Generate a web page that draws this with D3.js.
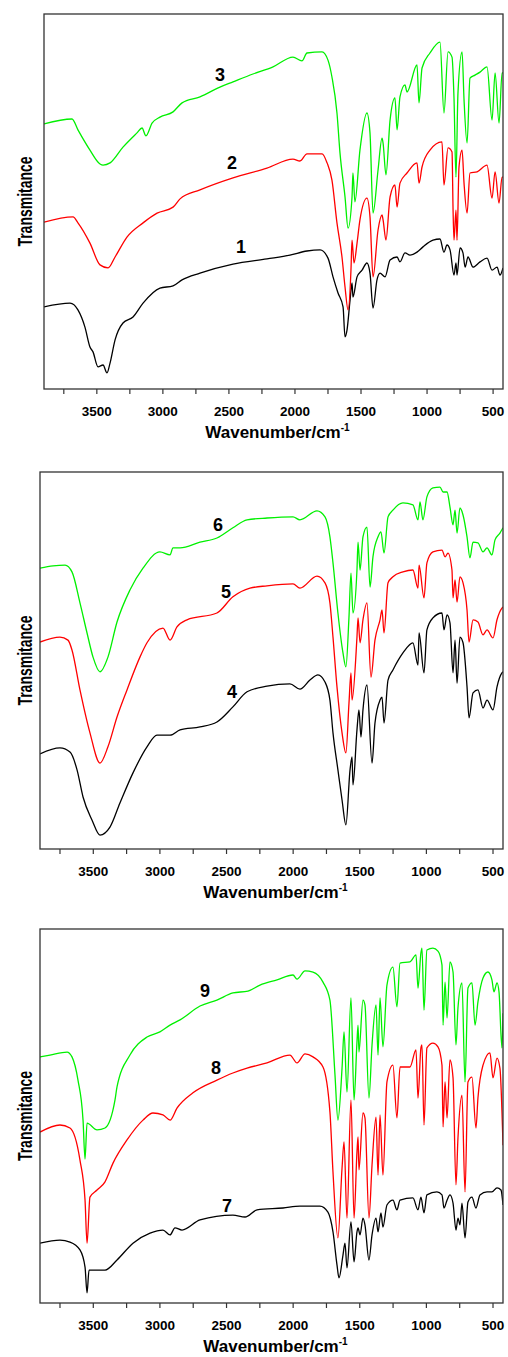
<!DOCTYPE html>
<html>
<head>
<meta charset="utf-8">
<script src="https://cdn.jsdelivr.net/npm/d3@7"></script>
<style>
  body { margin: 0; background: #fff; }
  text { font-family: Arial, "Liberation Sans", sans-serif; font-weight: bold; fill: #000; }
</style>
</head>
<body>
<svg width="508" height="1357"></svg>
<script>
// x ticks (cm-1)
var majorTicks = [3500, 3000, 2500, 2000, 1500, 1000, 500];
var minorTicks = [3750, 3250, 2750, 2250, 1750, 1250, 750];
var colors = ['#000000', '#ff0000', '#00f000'];

// spectra as [wavenumber, transmittance (a.u., offset)]
var spec1 = [[3900,21.9],[3703,22.9],[3643,21.1],[3590,16.5],[3552,11.2],[3529,9.9],[3491,5.9],[3453,6.4],[3423,4.3],[3400,6.9],[3362,13.1],[3302,17.6],[3226,19.2],[3150,22.9],[3022,26.9],[2923,27.5],[2855,29.1],[2719,30.9],[2469,33.3],[2212,34.7],[2038,35.7],[1909,36.8],[1810,37.1],[1750,34.9],[1712,29.9],[1674,25.6],[1636,21.9],[1621,13.9],[1606,15.7],[1583,23.7],[1568,28.3],[1561,24.5],[1530,29.9],[1492,31.7],[1455,33.6],[1432,30.9],[1409,21.6],[1379,29.1],[1356,30.9],[1318,29.9],[1280,34.4],[1227,35.2],[1205,33.9],[1167,36.3],[1129,35.7],[1076,36.5],[1031,37.9],[955,39.7],[902,40.0],[872,36.5],[849,38.4],[826,37.1],[796,30.4],[781,33.6],[773,30.4],[750,37.6],[728,36.3],[712,32.5],[690,35.2],[652,32.5],[599,33.9],[546,34.9],[508,31.7],[470,32.5],[448,30.4],[425,32.3]];
var spec2 = [[3900,44.5],[3680,45.9],[3643,44.3],[3552,38.9],[3476,33.1],[3415,32.3],[3362,35.2],[3272,40.5],[3150,44.3],[3044,46.9],[2923,48.5],[2870,50.7],[2719,53.1],[2469,56.3],[2212,58.9],[2015,61.3],[1962,60.8],[1909,62.7],[1795,62.7],[1757,60.3],[1720,55.7],[1682,44.3],[1644,35.2],[1621,27.2],[1598,21.1],[1576,31.7],[1568,39.7],[1553,33.6],[1530,38.9],[1508,45.1],[1455,50.9],[1432,45.9],[1409,29.9],[1371,42.4],[1341,46.4],[1333,45.1],[1311,39.7],[1280,51.2],[1243,54.4],[1227,48.5],[1205,54.9],[1152,57.6],[1076,60.3],[1061,54.9],[1038,59.2],[978,63.7],[887,65.9],[872,54.4],[841,64.3],[811,63.2],[803,47.7],[796,39.7],[781,47.7],[773,39.7],[758,59.2],[735,63.7],[720,54.9],[697,46.9],[675,57.6],[621,57.9],[546,59.7],[508,50.9],[485,57.9],[455,49.6],[432,56.5],[425,56.5]];
var spec3 = [[3900,70.7],[3688,72.0],[3643,69.1],[3552,63.7],[3476,60.0],[3453,59.7],[3400,60.3],[3302,64.5],[3196,68.3],[3158,69.6],[3128,67.5],[3082,70.9],[3022,72.5],[2923,73.9],[2855,76.3],[2719,77.9],[2568,80.5],[2469,81.9],[2318,84.0],[2166,85.9],[2015,88.5],[1947,87.5],[1909,89.6],[1795,89.9],[1750,87.7],[1720,83.2],[1682,73.6],[1659,62.9],[1621,51.2],[1598,42.9],[1568,51.2],[1561,57.6],[1546,49.9],[1508,63.7],[1455,73.6],[1432,68.3],[1409,46.9],[1371,58.4],[1341,66.9],[1333,65.6],[1311,57.1],[1280,71.7],[1243,77.6],[1227,69.1],[1205,77.9],[1167,81.1],[1152,79.2],[1076,86.4],[1061,76.3],[1038,85.6],[978,89.6],[902,92.5],[872,73.6],[841,89.9],[811,88.5],[796,77.6],[781,56.5],[766,78.9],[735,89.9],[720,77.1],[697,65.6],[675,82.9],[637,83.7],[599,84.5],[546,85.9],[508,71.7],[485,84.3],[455,70.9],[432,84.3],[425,84.3]];

var spec4 = [[3900,25.2],[3750,26.8],[3675,25.7],[3622,21.0],[3577,13.8],[3510,7.7],[3450,3.7],[3375,5.8],[3300,12.2],[3202,20.2],[3097,27.1],[3022,30.2],[2924,30.2],[2849,31.6],[2699,32.4],[2572,33.7],[2452,37.7],[2346,41.7],[2196,43.2],[2024,43.8],[1949,42.4],[1874,44.8],[1814,46.2],[1761,44.3],[1724,39.5],[1701,30.8],[1664,21.0],[1633,13.0],[1604,6.4],[1573,21.0],[1558,24.4],[1551,17.0],[1521,31.6],[1506,36.9],[1491,29.7],[1476,36.9],[1446,43.5],[1408,22.8],[1386,33.4],[1348,39.5],[1333,40.3],[1318,33.4],[1288,44.8],[1251,47.5],[1176,52.0],[1101,54.7],[1063,48.8],[1055,57.3],[1018,46.7],[996,58.1],[951,61.3],[883,62.6],[868,58.1],[845,62.1],[823,60.0],[800,46.7],[785,55.4],[770,44.0],[748,56.2],[725,54.7],[695,43.0],[680,34.8],[650,41.4],[613,42.2],[575,37.4],[545,39.5],[500,36.9],[470,43.0],[433,46.7],[425,47.0]];
var spec5 = [[3900,54.9],[3750,56.2],[3690,55.4],[3660,52.8],[3600,42.2],[3525,30.8],[3450,22.8],[3390,27.1],[3322,35.0],[3247,42.2],[3150,50.9],[3097,54.7],[2977,58.6],[2924,55.4],[2872,58.9],[2797,60.8],[2572,62.6],[2452,66.9],[2324,69.2],[2196,69.8],[2001,70.3],[1949,69.2],[1821,72.4],[1761,70.6],[1724,65.3],[1701,56.2],[1671,43.0],[1633,30.8],[1604,25.5],[1581,38.7],[1566,46.7],[1558,39.5],[1521,56.2],[1513,61.3],[1498,54.7],[1476,60.8],[1446,65.3],[1416,45.6],[1386,55.4],[1348,60.8],[1333,63.4],[1318,57.3],[1288,70.6],[1251,72.2],[1176,73.5],[1101,74.0],[1063,69.2],[1055,75.3],[1018,66.6],[996,75.9],[951,78.8],[883,79.3],[860,77.5],[838,78.5],[808,74.0],[800,66.6],[785,71.4],[770,65.5],[748,72.2],[725,70.6],[695,63.4],[680,54.9],[650,60.8],[613,60.2],[575,56.8],[545,58.1],[500,56.0],[470,60.8],[433,63.9],[425,64.2]];
var spec6 = [[3900,74.5],[3802,75.1],[3712,75.3],[3660,73.5],[3600,65.3],[3547,57.3],[3502,50.9],[3450,47.0],[3390,50.9],[3322,60.2],[3225,68.7],[3127,74.5],[3000,78.8],[2924,78.0],[2902,79.9],[2849,79.9],[2699,81.4],[2572,82.5],[2452,85.2],[2346,87.3],[2196,87.8],[2001,88.1],[1949,87.3],[1821,89.7],[1761,88.1],[1724,82.8],[1701,75.9],[1664,62.6],[1626,52.0],[1604,48.3],[1581,61.5],[1566,73.2],[1551,62.6],[1521,74.0],[1513,81.4],[1498,74.0],[1476,82.8],[1446,85.4],[1423,69.5],[1401,77.5],[1363,82.8],[1341,84.1],[1318,78.5],[1288,88.1],[1251,89.9],[1176,91.8],[1101,91.3],[1063,87.3],[1048,92.1],[1026,87.3],[996,93.4],[951,95.8],[898,96.0],[875,94.7],[845,94.7],[823,90.7],[800,86.0],[785,89.9],[770,83.8],[748,90.5],[725,88.6],[695,82.8],[673,77.2],[650,81.4],[613,81.2],[575,78.8],[545,79.9],[508,78.0],[485,82.0],[448,83.8],[425,85.2]];

var spec7 = [[3900,16.0],[3750,16.8],[3675,16.3],[3600,14.2],[3562,9.6],[3547,2.7],[3532,8.8],[3472,8.8],[3412,8.8],[3322,11.5],[3202,16.0],[3074,18.7],[2977,19.5],[2924,18.2],[2887,20.1],[2834,19.5],[2699,22.2],[2452,23.5],[2361,23.0],[2271,24.9],[2076,25.4],[1949,25.9],[1799,25.9],[1739,24.3],[1701,19.0],[1671,10.2],[1656,6.7],[1626,12.8],[1611,16.0],[1596,9.4],[1566,21.7],[1543,11.0],[1521,19.0],[1513,20.1],[1498,18.2],[1476,22.7],[1461,20.9],[1431,11.5],[1408,18.2],[1378,22.7],[1363,19.0],[1341,24.1],[1326,20.3],[1296,26.2],[1251,27.5],[1221,24.9],[1198,27.5],[1101,28.1],[1063,24.9],[1041,28.3],[1018,24.1],[996,28.9],[921,29.7],[883,28.9],[868,25.4],[845,27.5],[823,28.9],[800,26.7],[778,19.5],[763,22.7],[748,20.9],[733,26.7],[710,17.4],[688,27.0],[658,28.3],[628,25.4],[598,28.9],[545,29.7],[508,29.7],[470,30.8],[440,30.2],[425,26.2]];
var spec8 = [[3900,45.7],[3750,47.6],[3675,46.8],[3600,38.2],[3562,27.5],[3547,16.0],[3525,28.3],[3472,30.2],[3412,32.4],[3352,37.4],[3247,43.6],[3127,48.9],[3052,50.8],[2977,50.3],[2924,48.9],[2872,52.1],[2752,56.2],[2572,59.6],[2452,61.5],[2346,62.8],[2196,64.2],[2024,66.3],[1971,64.2],[1911,66.6],[1851,65.8],[1776,63.1],[1724,51.1],[1701,35.0],[1664,17.4],[1633,36.1],[1618,43.1],[1596,22.7],[1566,54.3],[1543,22.7],[1521,40.4],[1513,44.4],[1506,35.6],[1476,50.8],[1461,49.5],[1431,22.7],[1408,36.9],[1378,49.7],[1363,34.2],[1348,50.3],[1326,34.2],[1296,59.1],[1251,63.6],[1221,49.5],[1198,63.1],[1123,63.1],[1078,67.7],[1063,54.8],[1041,68.2],[1033,69.0],[1018,47.6],[996,68.2],[951,69.5],[913,68.5],[883,63.6],[875,47.1],[860,59.1],[845,49.5],[823,65.0],[800,60.2],[778,31.6],[763,44.1],[733,55.6],[710,29.7],[688,59.1],[658,60.4],[628,46.8],[613,54.8],[575,63.6],[523,66.9],[500,60.2],[470,65.5],[448,62.8],[425,42.2]];
var spec9 = [[3900,65.8],[3825,66.3],[3697,67.1],[3660,65.8],[3615,59.6],[3577,48.9],[3562,38.5],[3547,48.1],[3472,46.3],[3412,46.8],[3337,54.3],[3322,57.8],[3225,66.3],[3097,71.1],[3000,72.5],[2924,74.3],[2849,75.7],[2699,79.4],[2572,81.0],[2452,82.9],[2339,83.4],[2249,85.0],[2121,86.4],[2001,87.7],[1971,86.6],[1911,88.8],[1851,88.5],[1776,85.8],[1724,81.0],[1686,61.0],[1664,48.9],[1633,62.8],[1618,72.5],[1596,56.4],[1566,81.6],[1543,54.3],[1521,69.8],[1513,74.3],[1506,67.1],[1476,81.0],[1461,79.7],[1431,54.8],[1408,69.0],[1378,79.7],[1363,66.3],[1348,81.6],[1326,68.5],[1296,85.0],[1251,89.8],[1221,79.2],[1198,90.9],[1123,91.2],[1078,93.1],[1063,84.2],[1041,93.6],[1033,94.9],[1018,78.3],[996,94.4],[951,94.9],[913,94.1],[883,90.4],[875,74.3],[860,85.8],[845,76.2],[823,91.2],[800,88.5],[778,69.0],[763,78.9],[733,85.6],[710,59.1],[688,84.2],[658,85.6],[635,74.3],[613,80.5],[575,86.9],[538,88.5],[508,86.4],[493,83.2],[470,85.6],[455,83.2],[433,68.2],[425,77.5]];

// curve labels: [wavenumber, transmittance, text]
var labels1 = [[2408, 37.9, '1'], [2477, 60.3, '2'], [2568, 83.7, '3']];
var labels2 = [[2459, 41.7, '4'], [2504, 68.2, '5'], [2564, 86.0, '6']];
var labels3 = [[2497, 25.9, '7'], [2579, 62.8, '8'], [2662, 83.4, '9']];

var panels = [
  {top: 14, bottom: 389, left: 44, series: [spec1, spec2, spec3], labels: labels1},
  {top: 472, bottom: 849, left: 40, series: [spec4, spec5, spec6], labels: labels2},
  {top: 929, bottom: 1303, left: 40, series: [spec7, spec8, spec9], labels: labels3}
];
var right = 503;

var svg = d3.select('svg');

panels.forEach(function(p, pi) {
  var x = d3.scaleLinear().domain([3900, 425]).range([p.left, right]);
  var y = d3.scaleLinear().domain([0, 100]).range([p.bottom, p.top]);

  svg.append('clipPath')
    .attr('id', 'clip' + pi)
    .append('rect')
    .attr('x', p.left).attr('y', p.top)
    .attr('width', right - p.left).attr('height', p.bottom - p.top);

  var line = d3.line()
    .x(function(d) { return x(d[0]); })
    .y(function(d) { return y(d[1]); })
    .curve(d3.curveMonotoneX);

  var g = svg.append('g').attr('clip-path', 'url(#clip' + pi + ')');
  // black first, green on top
  g.selectAll('path')
    .data(p.series)
    .enter()
    .append('path')
    .attr('d', line)
    .attr('fill', 'none')
    .attr('stroke', function(d, i) { return colors[i]; })
    .attr('stroke-width', 1.3)
    .attr('stroke-linejoin', 'round');

  svg.append('g').selectAll('text')
    .data(p.labels)
    .enter()
    .append('text')
    .attr('x', function(d) { return x(d[0]); })
    .attr('y', function(d) { return y(d[1]); })
    .attr('dy', '0.35em')
    .attr('text-anchor', 'middle')
    .style('font-size', '18px')
    .text(function(d) { return d[2]; });

  // bottom axis, ticks every 250
  var axis = svg.append('g').attr('transform', 'translate(0,' + p.bottom + ')');
  axis.selectAll('line')
    .data(majorTicks.concat(minorTicks))
    .enter()
    .append('line')
    .attr('x1', function(d) { return x(d); })
    .attr('x2', function(d) { return x(d); })
    .attr('y1', 0)
    .attr('y2', 5)
    .attr('stroke', '#333')
    .attr('stroke-width', 1.2);
  axis.selectAll('text')
    .data(majorTicks)
    .enter()
    .append('text')
    .attr('x', function(d) { return x(d); })
    .attr('y', 26.5)
    .attr('text-anchor', 'middle')
    .style('font-size', '13.5px')
    .text(function(d) { return d; });

  var title = svg.append('text')
    .attr('x', (p.left + right) / 2 + 4)
    .attr('y', p.bottom + 49)
    .attr('text-anchor', 'middle')
    .style('font-size', '17px');
  title.append('tspan').text('Wavenumber/cm');
  title.append('tspan').attr('dy', -7).style('font-size', '10px').text('-1');

  svg.append('text')
    .attr('transform', 'translate(32,' + ((p.top + p.bottom) / 2) + ') rotate(-90) scale(0.7,1)')
    .attr('text-anchor', 'middle')
    .style('font-size', '20px')
    .text('Transmitance');

  // frame
  svg.append('rect')
    .attr('x', p.left).attr('y', p.top)
    .attr('width', right - p.left).attr('height', p.bottom - p.top)
    .attr('fill', 'none')
    .attr('stroke', '#333')
    .attr('stroke-width', 1.3);
});
</script>
</body>
</html>
